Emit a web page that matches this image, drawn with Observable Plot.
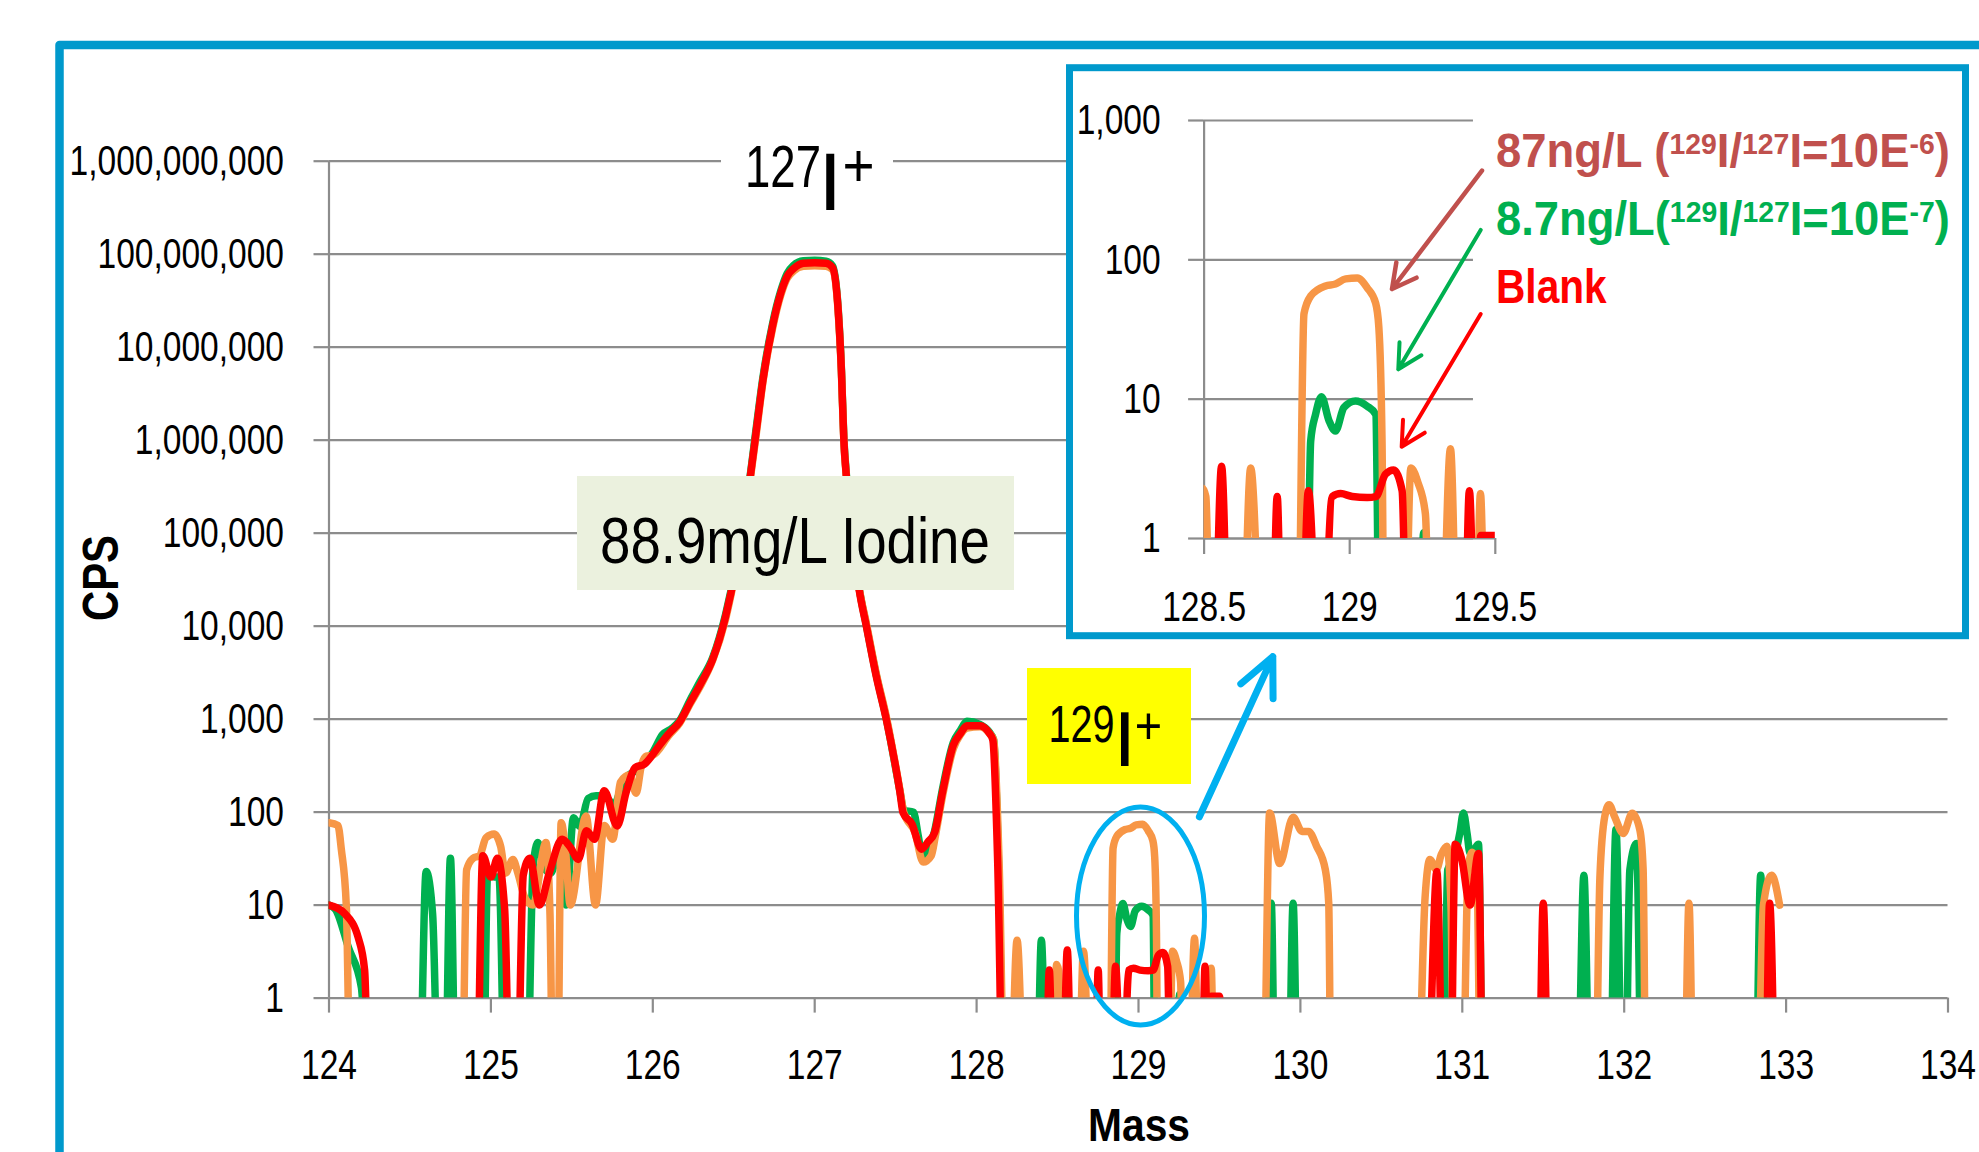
<!DOCTYPE html>
<html>
<head>
<meta charset="utf-8">
<script src="https://cdn.jsdelivr.net/npm/d3@7"></script>
<script src="https://cdn.jsdelivr.net/npm/@observablehq/plot@0.6"></script>
<style>
  html, body { margin: 0; padding: 0; background: #fff; }
  #stage { position: relative; width: 1979px; height: 1152px; overflow: hidden; background: #fff; }
  #stage > * { position: absolute; }
</style>
</head>
<body>
<div id="stage"></div>
<script>
// ---------------- DATA (mass [u], counts per second; 0 = no counts) ----------------
const massTicks = [124, 125, 126, 127, 128, 129, 130, 131, 132, 133, 134];
const cpsTicks = [1, 10, 100, 1000, 10000, 100000, 1000000, 10000000, 100000000, 1000000000];
const insetMassTicks = [128.5, 129, 129.5];
const insetCpsTicks = [1, 10, 100, 1000];

const seriesNames = ["87ng/L (129I/127I=10E-6)", "8.7ng/L(129I/127I=10E-7)", "Blank"];
const seriesColors = ["#F79646", "#00B050", "#FF0000"];

// 8.7 ng/L  (green)
const iodine8_7ngL = [
  [124.00,10],[124.04,9],[124.12,3.5],[124.20,1.3],[124.25,0],[124.40,0],[124.555,0],[124.60,23],[124.64,8],[124.68,0],
  [124.715,0],[124.75,32],[124.785,0],[124.85,0],[124.95,0],[124.98,22],[125.02,20],[125.05,20],[125.09,0],[125.15,0],
  [125.22,0],[125.26,25],[125.29,47],[125.33,25],[125.37,22],[125.42,40],[125.465,10],[125.51,87],[125.55,70],[125.60,140],
  [125.65,150],[125.70,150],[125.76,120],[125.82,220],[125.88,270],[125.95,340],[126.00,440],[126.06,680],[126.12,800],[126.165,960],
  [126.23,1600],[126.29,2500],[126.37,4600],[126.45,13500],[126.515,46000],[126.56,140000],[126.60,400000],[126.64,1400000],[126.68,4700000],[126.74,18000000],
  [126.79,40000000],[126.83,62000000],[126.87,76000000],[126.93,85000000],[127.00,86000000],[127.07,84000000],[127.11,75000000],[127.145,26000000],[127.165,5800000],[127.18,1050000],
  [127.196,420000],[127.274,26000],[127.32,10000],[127.38,3000],[127.443,1000],[127.526,170],[127.55,105],[127.61,100],[127.64,55],[127.67,30],
  [127.70,38],[127.74,62],[127.79,180],[127.856,560],[127.90,760],[127.94,950],[128.02,880],[128.08,720],[128.105,600],[128.135,30],
  [128.17,0],[128.30,0],[128.37,0],[128.40,4.2],[128.435,0],[128.54,0],[128.563,1.12],[128.585,0],[128.70,0],[128.849,0],
  [128.866,5],[128.883,7.8],[128.903,10.4],[128.929,7],[128.951,5.9],[128.98,8.7],[129.02,9.7],[129.06,8.9],[129.089,7.8],[129.105,0],
  [129.20,0],[129.235,0],[129.254,1.1],[129.275,0],[129.50,0],[129.79,0],[129.82,10.5],[129.845,0],[129.925,0],[129.955,10.5],
  [129.985,0],[130.40,0],[130.88,0],[130.91,24],[130.95,32],[130.985,60],[131.007,98],[131.03,58],[131.048,36],[131.075,40],
  [131.10,45],[131.128,0],[131.40,0],[131.71,0],[131.751,21],[131.79,0],[131.91,0],[131.949,65],[131.99,0],[132.005,0],
  [132.035,24],[132.076,46],[132.11,0],[132.50,0],[132.81,0],[132.843,21],[132.875,0],[132.92,0]
];

// 87 ng/L  (orange)
const iodine87ngL = [
  [124.00,77],[124.055,72],[124.076,40],[124.107,9.7],[124.135,0],[124.40,0],[124.60,0],[124.82,0],[124.85,24],[124.89,32],
  [124.93,34],[124.97,53],[125.02,58],[125.06,43],[125.09,22],[125.136,31],[125.167,22],[125.21,12],[125.26,10],[125.34,47],
  [125.365,8],[125.385,0],[125.41,0],[125.434,77],[125.46,40],[125.49,10],[125.588,91],[125.646,10],[125.70,72],[125.753,51],
  [125.80,210],[125.856,250],[125.897,160],[125.93,320],[125.96,400],[126.00,410],[126.10,670],[126.165,900],[126.23,1450],[126.29,2200],
  [126.37,4300],[126.45,12000],[126.515,42000],[126.56,125000],[126.60,360000],[126.64,1200000],[126.68,4200000],[126.74,16000000],[126.79,36000000],[126.83,55000000],
  [126.87,66000000],[126.93,74000000],[127.00,75000000],[127.07,74000000],[127.11,68000000],[127.145,24000000],[127.165,5400000],[127.18,980000],[127.196,390000],[127.274,26000],
  [127.32,10500],[127.38,3100],[127.443,1050],[127.526,175],[127.55,100],[127.62,60],[127.67,29],[127.72,34],[127.745,55],[127.79,150],
  [127.856,480],[127.90,680],[127.94,800],[128.02,830],[128.08,700],[128.105,600],[128.14,25],[128.175,0],[128.205,0],[128.25,4.2],
  [128.30,0],[128.40,0],[128.47,0],[128.494,2.3],[128.506,2.0],[128.525,0],[128.60,0],[128.626,0],[128.66,3.2],[128.706,0],
  [128.78,0],[128.82,0],[128.843,41],[128.866,55],[128.917,65],[128.951,67],[128.986,73],[129.026,74],[129.06,63],[129.089,49],
  [129.10,33],[129.111,5],[129.12,0],[129.185,0],[129.21,3.2],[129.235,2.5],[129.26,1.5],[129.28,0],[129.31,0],[129.346,4.4],
  [129.375,0],[129.43,0],[129.449,2.1],[129.47,0],[129.60,0],[129.77,0],[129.81,98],[129.872,28],[129.955,88],[130.01,62],
  [130.05,62],[130.10,43],[130.154,24],[130.175,10.5],[130.19,0],[130.50,0],[130.72,0],[130.77,12],[130.80,31],[130.84,24],
  [130.87,35],[130.905,43],[130.93,10],[130.95,0],[131.00,0],[131.035,22],[131.06,37],[131.09,25],[131.115,0],[131.50,0],
  [131.82,0],[131.85,20],[131.88,90],[131.907,120],[131.94,90],[131.994,59],[132.05,97],[132.097,64],[132.117,24],[132.135,0],
  [132.30,0],[132.37,0],[132.40,10.5],[132.43,0],[132.60,0],[132.82,0],[132.86,10],[132.91,21],[132.96,10]
];

// Blank  (red)
const blank = [
  [124.00,10],[124.10,8],[124.18,4.5],[124.22,2],[124.25,0],[124.40,0],[124.60,0],[124.80,0],[124.91,0],[124.95,34],
  [125.00,20],[125.04,32],[125.085,9],[125.12,0],[125.16,0],[125.20,21],[125.24,32],[125.30,10],[125.36,22],[125.44,51],
  [125.49,42],[125.54,31],[125.59,63],[125.64,51],[125.70,170],[125.78,71],[125.835,163],[125.89,300],[125.95,330],[126.04,520],
  [126.10,700],[126.165,930],[126.23,1500],[126.29,2300],[126.37,4400],[126.45,12800],[126.515,44000],[126.56,130000],[126.60,380000],[126.64,1300000],
  [126.68,4400000],[126.74,17000000],[126.79,38000000],[126.83,58000000],[126.87,70000000],[126.93,80000000],[127.00,81000000],[127.07,80000000],[127.11,72000000],[127.145,25000000],
  [127.165,5600000],[127.18,1000000],[127.196,400000],[127.274,25000],[127.32,9800],[127.38,2900],[127.443,980],[127.526,166],[127.546,98],[127.60,75],
  [127.66,40],[127.70,48],[127.74,60],[127.79,166],[127.856,525],[127.90,700],[127.94,850],[128.02,850],[128.08,700],[128.10,600],
  [128.13,30],[128.165,0],[128.30,0],[128.425,0],[128.449,2.0],[128.475,0],[128.53,0],[128.56,3.3],[128.59,0],[128.73,0],
  [128.751,2.0],[128.77,0],[128.83,0],[128.858,2.2],[128.90,0],[128.94,2.0],[128.969,2.1],[129.009,2.0],[129.06,1.97],[129.09,2.0],
  [129.123,2.9],[129.151,3.1],[129.18,2.2],[129.20,0],[129.30,0],[129.39,0],[129.411,2.2],[129.435,0],[129.45,1.05],[129.50,1.05],
  [129.53,0],[129.80,0],[130.40,0],[130.78,0],[130.843,23],[130.884,0],[130.925,0],[130.956,45],[130.997,31],[131.048,10],
  [131.10,36],[131.13,0],[131.30,0],[131.47,0],[131.50,10.5],[131.535,0],[131.80,0],[132.20,0],[132.60,0],[132.87,0],
  [132.898,10.5],[132.93,0]
];

// ---------------- RENDERING ----------------
const FONT = "'Liberation Sans', Arial, sans-serif";
const GRID = "#8c8c8c";
const FRAME = "#0099CC";
const CALLOUT = "#00B0F0";
const FLOOR = 0.05;      // zero counts drawn below the log axis (clipped away)
const SQUEEZE = 0.78;    // condensed look of the original typeface
const LINE_W = 7.5;

const toRows = (s) => s.map(([mass, cps]) => ({mass, cps: cps > 0 ? cps : FLOOR}));
const drawOrder = [
  {rows: toRows(iodine8_7ngL), color: seriesColors[1]},
  {rows: toRows(iodine87ngL), color: seriesColors[0]},
  {rows: toRows(blank), color: seriesColors[2]}
];
const lineMarks = (w) => drawOrder.map(s => Plot.line(s.rows, {
  x: "mass", y: "cps", stroke: s.color, strokeWidth: w, curve: "monotone-x", clip: true
}));

const stage = document.getElementById("stage");
function place(node, left, top) {
  node.style.position = "absolute";
  node.style.left = left + "px";
  node.style.top = top + "px";
  stage.appendChild(node);
}
// horizontal condensing of a text element around its own anchor x
function condense(t, s) {
  let x = parseFloat(t.getAttribute("x"));
  if (!isFinite(x)) x = 0;
  const tr = t.getAttribute("transform") || "";
  t.setAttribute("transform", `${tr} translate(${x},0) scale(${s},1) translate(${-x},0)`.trim());
}

// Main chart
const main = Plot.plot({
  width: 1979, height: 1152,
  marginLeft: 328.5, marginRight: 31.5, marginTop: 160.7, marginBottom: 154.4,
  style: {background: "transparent", fontFamily: FONT, fontSize: "43px", color: "black", maxWidth: "none", overflow: "visible"},
  x: {domain: [124, 134]},
  y: {type: "log", domain: [1, 1e9]},
  marks: [
    Plot.ruleY(cpsTicks, {x1: 124, x2: 134, stroke: GRID, strokeWidth: 2.2}),
    Plot.ruleX([124], {y1: 1, y2: 1e9, stroke: GRID, strokeWidth: 2.2}),
    Plot.axisY({ticks: cpsTicks, tickFormat: d3.format(","), tickSize: 15, tickPadding: 30,
      stroke: GRID, fill: "black", strokeWidth: 2.2, fontSize: 43, label: null}),
    Plot.axisX({ticks: massTicks, tickFormat: d => String(d), tickSize: 15, tickPadding: 35,
      stroke: GRID, fill: "black", strokeWidth: 2.2, fontSize: 43, label: null}),
    ...lineMarks(LINE_W)
  ]
});
place(main, 0, 0);
main.querySelectorAll("text").forEach(t => condense(t, SQUEEZE));

function arrow(x1, y1, x2, y2, color, width, headLen, headAngle) {
  const a = Math.atan2(y1 - y2, x1 - x2);
  const r = headAngle * Math.PI / 180;
  const w1 = [x2 + headLen * Math.cos(a + r), y2 + headLen * Math.sin(a + r)];
  const w2 = [x2 + headLen * Math.cos(a - r), y2 + headLen * Math.sin(a - r)];
  return `<path d="M${x1},${y1}L${x2},${y2}M${w1[0]},${w1[1]}L${x2},${y2}L${w2[0]},${w2[1]}" fill="none" stroke="${color}" stroke-width="${width}" stroke-linecap="round" stroke-linejoin="round"/>`;
}
// fit texts: data-w = wanted width (px) or data-s = fixed horizontal scale
function fitTexts(root) {
  root.querySelectorAll("text[data-w], text[data-s]").forEach(t => {
    const s = t.hasAttribute("data-w") ? (+t.dataset.w / t.getBBox().width) : +t.dataset.s;
    condense(t, s);
  });
}

// Decorations above the main chart
const deco = `
<svg xmlns="http://www.w3.org/2000/svg" width="1979" height="1152" style="left:0;top:0;position:absolute;overflow:visible" font-family="${FONT}">
  <rect x="721" y="135" width="172" height="52" fill="#fff"/>
  <text x="745" y="187" font-size="60" fill="#000" data-w="76">127</text>
  <text x="822.5" y="210" font-weight="bold" font-size="82" fill="#000" data-s="0.68">I</text>
  <text x="842.4" y="186" font-size="61" fill="#000" data-s="0.9">+</text>

  <rect x="577" y="476" width="437" height="114" fill="#EBF1DE"/>
  <text x="600" y="562.6" font-size="64" fill="#000" data-w="390">88.9mg/L Iodine</text>

  <rect x="1027" y="668" width="164" height="116" fill="#FFFF00"/>
  <text x="1048.5" y="742" font-size="51" fill="#000" data-w="66">129</text>
  <text x="1117.6" y="766" font-weight="bold" font-size="77" fill="#000" data-s="0.68">I</text>
  <text x="1134.8" y="744" font-size="51" fill="#000" data-s="0.92">+</text>

  <ellipse cx="1140.5" cy="916" rx="64" ry="109" fill="none" stroke="${CALLOUT}" stroke-width="5"/>
  ${arrow(1199.4, 816.8, 1272.8, 656.7, CALLOUT, 7, 42, 25)}

  <text x="1139" y="1141" text-anchor="middle" font-weight="bold" font-size="47" fill="#000" data-w="102">Mass</text>
  <g transform="translate(118,578) rotate(-90)">
    <text x="0" y="0" text-anchor="middle" font-weight="bold" font-size="49" fill="#000" data-w="86">CPS</text>
  </g>

  <path d="M59.5,1170V45H2000" fill="none" stroke="${FRAME}" stroke-width="8.5" stroke-linejoin="round"/>
  <rect x="1069.5" y="67.7" width="896" height="568" fill="#fff" stroke="${FRAME}" stroke-width="7"/>
</svg>`;
stage.insertAdjacentHTML("beforeend", deco);
fitTexts(stage.lastElementChild);

// Inset (zoom on 128.5 – 129.5)
const inset = Plot.plot({
  width: 889, height: 559,
  marginLeft: 130.6, marginRight: 467.2, marginTop: 48, marginBottom: 93,
  style: {background: "transparent", fontFamily: FONT, fontSize: "43px", color: "black", maxWidth: "none", overflow: "visible"},
  x: {domain: [128.5, 129.5]},
  y: {type: "log", domain: [1, 1000]},
  marks: [
    Plot.ruleY(insetCpsTicks, {x1: 128.5, x2: 129.425, stroke: GRID, strokeWidth: 2.2}),
    Plot.ruleY([1], {x1: 128.5, x2: 129.5, stroke: GRID, strokeWidth: 2.2}),
    Plot.ruleX([128.5], {y1: 1, y2: 1000, stroke: GRID, strokeWidth: 2.2}),
    Plot.axisY({ticks: insetCpsTicks, tickFormat: d3.format(","), tickSize: 15.5, tickPadding: 28,
      stroke: GRID, fill: "black", strokeWidth: 2.2, fontSize: 43, label: null}),
    Plot.axisX({ticks: insetMassTicks, tickFormat: d => String(d), tickSize: 16, tickPadding: 36,
      stroke: GRID, fill: "black", strokeWidth: 2.2, fontSize: 43, label: null}),
    ...lineMarks(LINE_W)
  ]
});
place(inset, 1073, 72);
inset.querySelectorAll("text").forEach(t => condense(t, SQUEEZE));

// Legend texts and arrows of the inset
const sup = (t) => `<tspan font-size="30" dy="-13">${t}</tspan>`;
const down = (t) => `<tspan dy="13">${t}</tspan>`;
const legend = `
<svg xmlns="http://www.w3.org/2000/svg" width="1979" height="1152" style="left:0;top:0;position:absolute;overflow:visible" font-family="${FONT}" font-weight="bold">
  <text x="1496" y="166.7" font-size="48" fill="#C0504D" data-w="454">87ng/L (${sup("129")}${down("I/")}${sup("127")}${down("I=10E")}${sup("-6")}${down(")")}</text>
  <text x="1496" y="234.8" font-size="48" fill="#00B050" data-w="454">8.7ng/L(${sup("129")}${down("I/")}${sup("127")}${down("I=10E")}${sup("-7")}${down(")")}</text>
  <text x="1496" y="303.3" font-size="48" fill="#FF0000" data-w="111">Blank</text>
  ${arrow(1482, 170.6, 1392, 289, "#C0504D", 4.5, 27, 28)}
  ${arrow(1480.7, 229.9, 1398.3, 369.3, "#00B050", 4, 27, 28)}
  ${arrow(1480.7, 314, 1401.7, 446.7, "#FF0000", 4, 27, 28)}
</svg>`;
stage.insertAdjacentHTML("beforeend", legend);
fitTexts(stage.lastElementChild);
</script>
</body>
</html>
